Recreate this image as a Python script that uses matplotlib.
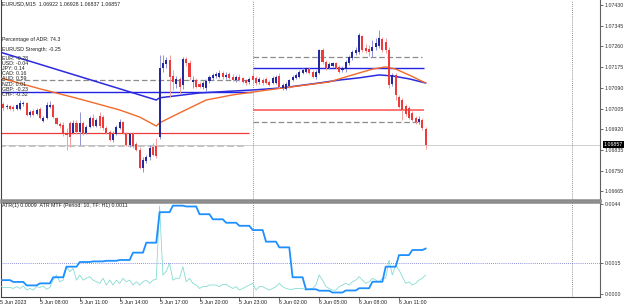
import numpy as np
import matplotlib
matplotlib.use("Agg")
import matplotlib.pyplot as plt
import matplotlib.transforms as mtransforms

# ---------------- data ----------------
opens = [
    1.07012, 1.07024, 1.07012, 1.07016, 1.07012, 1.07003, 1.07003, 1.07024, 1.07028, 1.06979,
    1.06995, 1.06983, 1.07003, 1.06954, 1.06966, 1.07012, 1.07020, 1.06966, 1.06942, 1.06937,
    1.06905, 1.06946, 1.06905, 1.06946, 1.06909, 1.06946, 1.06905, 1.06929, 1.06966, 1.06933,
    1.06974, 1.06970, 1.06925, 1.06909, 1.06876, 1.06901, 1.06925, 1.06950, 1.06901, 1.06855,
    1.06901, 1.06860, 1.06835, 1.06761, 1.06790, 1.06807, 1.06847, 1.06851, 1.06888, 1.07172,
    1.07188, 1.07204, 1.07139, 1.07106, 1.07127, 1.07102, 1.07208, 1.07192, 1.07114, 1.07122,
    1.07106, 1.07094, 1.07090, 1.07118, 1.07131, 1.07139, 1.07135, 1.07151, 1.07135, 1.07147,
    1.07135, 1.07122, 1.07135, 1.07131, 1.07122, 1.07114, 1.07139, 1.07131, 1.07114, 1.07122,
    1.07127, 1.07114, 1.07110, 1.07110, 1.07139, 1.07090, 1.07086, 1.07098, 1.07122, 1.07131,
    1.07135, 1.07151, 1.07155, 1.07167, 1.07155, 1.07135, 1.07151, 1.07245, 1.07196, 1.07172,
    1.07180, 1.07192, 1.07176, 1.07163, 1.07167, 1.07192, 1.07213, 1.07233, 1.07237, 1.07303,
    1.07254, 1.07250, 1.07241, 1.07258, 1.07262, 1.07291, 1.07278, 1.07245, 1.07106, 1.07143,
    1.07053, 1.07040, 1.07016, 1.07008, 1.06987, 1.06966, 1.06950, 1.06958, 1.06922]
highs = [
    1.07040, 1.07032, 1.07024, 1.07020, 1.07020, 1.07024, 1.07040, 1.07036, 1.07032, 1.06999,
    1.07003, 1.07008, 1.07012, 1.06974, 1.07032, 1.07036, 1.07024, 1.06970, 1.06950, 1.06950,
    1.06925, 1.06954, 1.06958, 1.06958, 1.06991, 1.06954, 1.06937, 1.06974, 1.06983, 1.06966,
    1.06991, 1.06979, 1.06933, 1.06917, 1.06913, 1.06937, 1.06962, 1.06954, 1.06909, 1.06905,
    1.06909, 1.06868, 1.06847, 1.06807, 1.06814, 1.06855, 1.06864, 1.06884, 1.07225, 1.07225,
    1.07217, 1.07225, 1.07163, 1.07139, 1.07135, 1.07217, 1.07217, 1.07204, 1.07139, 1.07131,
    1.07114, 1.07118, 1.07127, 1.07143, 1.07151, 1.07155, 1.07163, 1.07159, 1.07155, 1.07155,
    1.07147, 1.07143, 1.07147, 1.07135, 1.07127, 1.07135, 1.07151, 1.07139, 1.07135, 1.07131,
    1.07135, 1.07122, 1.07139, 1.07143, 1.07151, 1.07110, 1.07114, 1.07127, 1.07143, 1.07151,
    1.07163, 1.07172, 1.07176, 1.07176, 1.07163, 1.07163, 1.07250, 1.07254, 1.07204, 1.07196,
    1.07196, 1.07196, 1.07184, 1.07180, 1.07204, 1.07225, 1.07245, 1.07258, 1.07315, 1.07307,
    1.07270, 1.07266, 1.07287, 1.07295, 1.07328, 1.07299, 1.07295, 1.07258, 1.07151, 1.07151,
    1.07061, 1.07049, 1.07024, 1.07016, 1.06995, 1.06974, 1.06974, 1.06966, 1.06928]
lows = [
    1.07003, 1.06999, 1.07003, 1.06999, 1.06995, 1.06999, 1.06999, 1.07016, 1.06974, 1.06970,
    1.06974, 1.06979, 1.06962, 1.06950, 1.06962, 1.07008, 1.06966, 1.06937, 1.06925, 1.06892,
    1.06835, 1.06847, 1.06901, 1.06901, 1.06855, 1.06896, 1.06901, 1.06925, 1.06929, 1.06929,
    1.06925, 1.06917, 1.06901, 1.06872, 1.06868, 1.06896, 1.06921, 1.06901, 1.06851, 1.06847,
    1.06843, 1.06831, 1.06756, 1.06744, 1.06782, 1.06794, 1.06810, 1.06802, 1.06880, 1.07155,
    1.07172, 1.07053, 1.07082, 1.07090, 1.07069, 1.07086, 1.07180, 1.07122, 1.07090, 1.07090,
    1.07090, 1.07086, 1.07077, 1.07110, 1.07122, 1.07131, 1.07131, 1.07127, 1.07127, 1.07127,
    1.07118, 1.07114, 1.07118, 1.07110, 1.07102, 1.07106, 1.07106, 1.07102, 1.07106, 1.07102,
    1.07106, 1.07098, 1.07106, 1.07106, 1.07090, 1.07082, 1.07082, 1.07090, 1.07118, 1.07127,
    1.07131, 1.07147, 1.07151, 1.07147, 1.07131, 1.07127, 1.07147, 1.07188, 1.07163, 1.07167,
    1.07176, 1.07167, 1.07151, 1.07155, 1.07155, 1.07184, 1.07204, 1.07225, 1.07229, 1.07237,
    1.07233, 1.07221, 1.07217, 1.07245, 1.07254, 1.07237, 1.07233, 1.07090, 1.07098, 1.07040,
    1.07008, 1.06958, 1.06974, 1.06962, 1.06954, 1.06942, 1.06942, 1.06917, 1.06837]
closes = [
    1.07032, 1.07008, 1.07016, 1.07003, 1.07003, 1.07020, 1.07028, 1.07028, 1.06979, 1.06991,
    1.06979, 1.06999, 1.06966, 1.06966, 1.07020, 1.07020, 1.06970, 1.06942, 1.06933, 1.06901,
    1.06896, 1.06888, 1.06946, 1.06909, 1.06946, 1.06905, 1.06929, 1.06966, 1.06933, 1.06958,
    1.06933, 1.06925, 1.06905, 1.06876, 1.06901, 1.06929, 1.06950, 1.06905, 1.06855, 1.06901,
    1.06851, 1.06835, 1.06761, 1.06794, 1.06807, 1.06843, 1.06814, 1.06810, 1.07172, 1.07192,
    1.07204, 1.07135, 1.07114, 1.07127, 1.07094, 1.07208, 1.07192, 1.07135, 1.07122, 1.07094,
    1.07094, 1.07110, 1.07118, 1.07135, 1.07143, 1.07147, 1.07151, 1.07135, 1.07143, 1.07131,
    1.07122, 1.07135, 1.07122, 1.07114, 1.07110, 1.07127, 1.07122, 1.07110, 1.07127, 1.07110,
    1.07110, 1.07102, 1.07131, 1.07135, 1.07094, 1.07102, 1.07106, 1.07122, 1.07135, 1.07143,
    1.07155, 1.07163, 1.07172, 1.07151, 1.07135, 1.07155, 1.07245, 1.07196, 1.07172, 1.07188,
    1.07192, 1.07172, 1.07155, 1.07172, 1.07196, 1.07217, 1.07237, 1.07245, 1.07307, 1.07245,
    1.07241, 1.07237, 1.07258, 1.07274, 1.07295, 1.07245, 1.07245, 1.07102, 1.07143, 1.07061,
    1.07012, 1.06999, 1.06983, 1.06966, 1.06958, 1.06950, 1.06962, 1.06925, 1.06857]

atr1 = [
    0.00037, 0.00030, 0.00030, 0.00030, 0.00025, 0.00034, 0.00025, 0.00037, 0.00017, 0.00025,
    0.00017, 0.00034, 0.00030, 0.00037, 0.00021, 0.00030, 0.00066, 0.00091, 0.00058, 0.00066,
    0.00132, 0.00107, 0.00124, 0.00066, 0.00091, 0.00066, 0.00075, 0.00083, 0.00066, 0.00058,
    0.00050, 0.00075, 0.00042, 0.00066, 0.00042, 0.00066, 0.00050, 0.00075, 0.00058, 0.00066,
    0.00042, 0.00058, 0.00042, 0.00058, 0.00066, 0.00050, 0.00066, 0.00070, 0.00430, 0.00091,
    0.00110, 0.00149, 0.00066, 0.00075, 0.00075, 0.00132, 0.00058, 0.00075, 0.00050, 0.00042,
    0.00025, 0.00034, 0.00034, 0.00042, 0.00042, 0.00042, 0.00034, 0.00045, 0.00045, 0.00034,
    0.00025, 0.00034, 0.00017, 0.00025, 0.00034, 0.00042, 0.00050, 0.00017, 0.00034, 0.00034,
    0.00025, 0.00017, 0.00025, 0.00034, 0.00050, 0.00034, 0.00025, 0.00021, 0.00021, 0.00025,
    0.00025, 0.00025, 0.00017, 0.00021, 0.00025, 0.00042, 0.00091, 0.00066, 0.00034, 0.00025,
    0.00017, 0.00017, 0.00034, 0.00042, 0.00050, 0.00042, 0.00058, 0.00066, 0.00083, 0.00066,
    0.00050, 0.00058, 0.00075, 0.00066, 0.00058, 0.00075, 0.00075, 0.00165, 0.00091, 0.00140,
    0.00116, 0.00083, 0.00050, 0.00058, 0.00042, 0.00050, 0.00066, 0.00075, 0.00091]

# ATR MTF (H1) - one value per hour, each hour = 4 M15 bars
atr_mtf_hourly = [
    0.00066, 0.00057, 0.00040, 0.00050, 0.00080, 0.00132, 0.00155, 0.00158, 0.00161, 0.00165,
    0.00201, 0.00250, 0.00400, 0.00432, 0.00428, 0.00390, 0.00365, 0.00348, 0.00333, 0.00312,
    0.00255, 0.00227, 0.00080, 0.00021, 0.00014, 0.00005, 0.00015, 0.00026, 0.00058, 0.00132,
    0.00189, 0.00214, 0.00221]

orange_ma_x = [0, 12, 24, 36, 42, 47, 48, 54, 62, 70, 81, 90, 99, 105, 112, 116, 119, 123, 128]
orange_ma_y = [1.07131, 1.07086, 1.07044, 1.06999, 1.06970, 1.06933, 1.06946, 1.06987, 1.07040,
               1.07061, 1.07082, 1.07098, 1.07114, 1.07139, 1.07167, 1.07176, 1.07167, 1.07143, 1.07110]
blue_ma_x = [0, 47, 48, 60, 77, 85, 96, 102, 108, 114, 118, 123, 128]
blue_ma_y = [1.07237, 1.07040, 1.07049, 1.07069, 1.07082, 1.07090, 1.07110, 1.07122, 1.07131,
             1.07143, 1.07139, 1.07127, 1.07110]

# horizontal levels: (price, x_start_bar, x_end_bar)
left_gray_dash = (1.07122, 0, 74.9)
left_red = (1.06903, 0, 74.9)
left_blue = (1.07073, 0, 75.8)
left_silver_dash = (1.06852, 0, 74.0)
right_gray_dash_hi = (1.07218, 77, 127)
right_gray_dash_lo = (1.06949, 77, 127)
right_blue = (1.07170, 77, 127.5)
right_red = (1.06999, 77, 127.5)
current_price = 1.06857

separators = [76, 172]

price_ticks = [1.07430, 1.07345, 1.07260, 1.07175, 1.07090, 1.07005, 1.06920, 1.06835, 1.06750, 1.06665]
atr_ticks = [0.0044, 0.0015, 0.0000]
atr_level = 0.0015

time_tick_bars = [0, 12, 24, 36, 48, 60, 72, 84, 96, 108, 120]
time_labels = ["5 Jun 2023", "5 Jun 08:00", "5 Jun 11:00", "5 Jun 14:00", "5 Jun 17:00",
               "5 Jun 20:00", "5 Jun 23:00", "6 Jun 02:00", "6 Jun 05:00", "6 Jun 08:00", "6 Jun 11:00"]

header = "EURUSD,M15  1.06922 1.06928 1.06837 1.06857"
adr_text = "Percentage of ADR: 74.3"
strength_text = "EURUSD Strength: -0.25"
currencies = ["EUR", "USD", "JPY", "CAD", "AUD", "NZD", "GBP", "CHF"]
strengths = ["-0.28", "-0.04", "0.14", "0.16", "0.59", "0.01", "-0.23", "-0.32"]
atr_header = "ATR(1) 0.0009  ATR MTF (Period: 10, TF: H1) 0.0011"

# ---------------- layout ----------------
W, H = 625, 306
FONT = "Liberation Sans"
FS = 3.8
TXT = "#202020"

fig = plt.figure(figsize=(W / 100, H / 100), dpi=100)
fig.patch.set_facecolor("white")


def rect(x0, y0, x1, y1):
    return [x0 / W, 1 - y1 / H, (x1 - x0) / W, (y1 - y0) / H]


px_per_bar = 3.325
xlim = (1 / px_per_bar, 600 / px_per_bar)

ax = fig.add_axes(rect(1, 0, 600, 200))
ax2 = fig.add_axes(rect(1, 202, 600, 297))

for a in (ax, ax2):
    a.set_facecolor("white")
    a.set_xlim(*xlim)
    a.set_xticks([])
    a.yaxis.tick_right()
    a.tick_params(axis="y", length=2, width=0.5, pad=1.5, labelsize=FS, colors="#303030")
    for lab in a.get_yticklabels():
        lab.set_family(FONT)

ax.set_ylim(1.06629, 1.07451)
ax2.set_ylim(-0.00017, 0.00450)

# spines
ax.spines["top"].set_visible(False)
ax.spines["left"].set_color("#404040")
ax.spines["left"].set_linewidth(0.8)
ax.spines["right"].set_color("#606060")
ax.spines["right"].set_linewidth(0.8)
ax.spines["bottom"].set_color("#8a8a8a")
ax.spines["bottom"].set_linewidth(1.8)
ax2.spines["top"].set_color("#8a8a8a")
ax2.spines["top"].set_linewidth(1.8)
ax2.spines["left"].set_color("#404040")
ax2.spines["left"].set_linewidth(0.8)
ax2.spines["right"].set_color("#606060")
ax2.spines["right"].set_linewidth(0.8)
ax2.spines["bottom"].set_color("#404040")
ax2.spines["bottom"].set_linewidth(0.8)

ax.set_yticks(price_ticks)
ax.set_yticklabels([f"{v:.5f}" for v in price_ticks], family=FONT, fontsize=FS)
ax2.set_yticks(atr_ticks)
ax2.set_yticklabels([f"{v:.4f}" for v in atr_ticks], family=FONT, fontsize=FS)

# ---------------- main panel ----------------
n = len(closes)
idx = np.arange(n)
o = np.array(opens)
c = np.array(closes)
h = np.array(highs)
l = np.array(lows)
bull = c >= o

# current price line
ax.axhline(current_price, color="#cfcfcf", lw=0.7, zorder=1)

# separators
for s in separators:
    ax.axvline(s, color="#707070", lw=0.6, ls=(0, (1, 1.5)), zorder=1)
    ax2.axvline(s, color="#707070", lw=0.6, ls=(0, (1, 1.5)), zorder=1)

# horizontal levels
def hline(level, color, lw, ls="-", z=2):
    y, x0, x1 = level
    ax.plot([x0 - 1, x1], [y, y], color=color, lw=lw, ls=ls, zorder=z, solid_capstyle="butt")

hline(left_gray_dash, "#8c8c8c", 0.9, (0, (4.5, 2.2)))
hline(left_silver_dash, "#c4c4c4", 1.4, (0, (3.5, 1.6)))
hline(left_red, "#f03a3a", 0.9)
hline(left_blue, "#2323e6", 1.0)
hline(right_gray_dash_hi, "#8c8c8c", 0.9, (0, (4.5, 2.2)))
hline(right_gray_dash_lo, "#8c8c8c", 0.9, (0, (4.5, 2.2)))
hline(right_blue, "#2323e6", 1.0)
hline(right_red, "#ff6a6a", 1.3)

# moving averages
ax.plot(blue_ma_x, blue_ma_y, color="#2a2ae0", lw=1.1, zorder=4)
ax.plot(orange_ma_x, orange_ma_y, color="#f26a2a", lw=1.0, zorder=4)

# candles
bull_col, bear_col = "#26289e", "#ee3a3a"
bull_wick, bear_wick = "#8f93d6", "#f2a0a0"
ax.vlines(idx[bull], l[bull], h[bull], color=bull_wick, lw=0.7, zorder=5)
ax.vlines(idx[~bull], l[~bull], h[~bull], color=bear_wick, lw=0.7, zorder=5)
body_lo = np.minimum(o, c)
body_h = np.maximum(np.abs(c - o), 0.000015)
ax.bar(idx[bull], body_h[bull], bottom=body_lo[bull], width=0.62, color=bull_col, lw=0, zorder=6)
ax.bar(idx[~bull], body_h[~bull], bottom=body_lo[~bull], width=0.62, color=bear_col, lw=0, zorder=6)

# current price label
trans = mtransforms.blended_transform_factory(ax.transAxes, ax.transData)
ax.text(1.006, current_price, f"{current_price:.5f}", transform=trans, ha="left", va="center",
        fontsize=FS, family=FONT, color="white", zorder=10, clip_on=False,
        bbox=dict(boxstyle="square,pad=0.15", fc="black", ec="black", lw=0))

# ---------------- ATR panel ----------------
ax2.axhline(atr_level, color="#6b6bd0", lw=0.6, ls=(0, (1, 1.5)), zorder=2)
mtf_per_bar = np.repeat(atr_mtf_hourly, 4)[:n]
ax2.plot(idx, atr1, color="#86dcd2", lw=0.6, zorder=3)
ax2.plot(idx, mtf_per_bar, color="#1e8fff", lw=1.3, zorder=4)

# time axis ticks & labels
for b, lab in zip(time_tick_bars, time_labels):
    xpix = b * px_per_bar
    fig.text(max(xpix, 0) / W, 1 - 302 / H, lab, ha="left", va="center", fontsize=FS,
             family=FONT, color=TXT)
    if b * px_per_bar > 1:
        fig.add_artist(plt.Line2D([xpix / W, xpix / W], [1 - 297 / H, 1 - 299.5 / H],
                                  color="#404040", lw=0.5, transform=fig.transFigure))

# ---------------- texts ----------------
def ftext(x, y, s):
    fig.text(x / W, 1 - y / H, s, ha="left", va="center", fontsize=FS, family=FONT,
             color=TXT, zorder=20)

ftext(2, 4, header)
ftext(2, 39, adr_text)
ftext(2, 49, strength_text)
for k, (cur, st) in enumerate(zip(currencies, strengths)):
    ftext(2, 58.3 + k * 5.15, f"{cur}: {st}")
ftext(2, 205.5, atr_header)

fig.savefig("out.png", dpi=100, facecolor="white")
